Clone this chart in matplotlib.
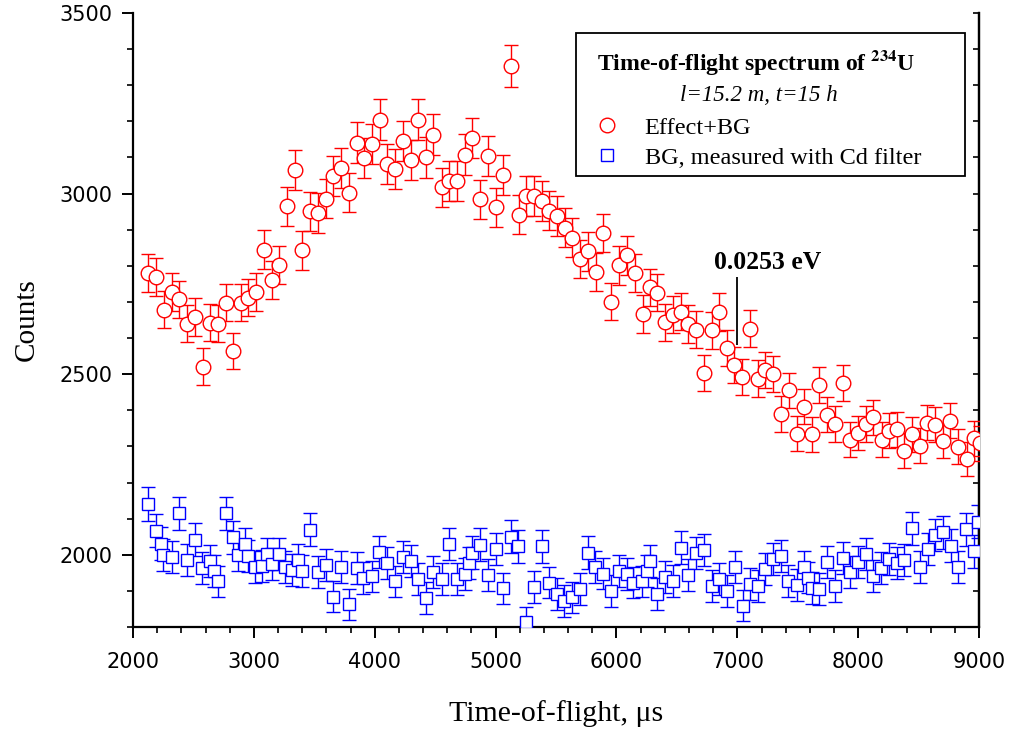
import numpy as np
import matplotlib
matplotlib.use("Agg")
import matplotlib.pyplot as plt
from matplotlib.patches import Rectangle
from matplotlib.ticker import MultipleLocator

# Effect+BG, red circles (time-of-flight in us, counts)
tof_eff = [2127, 2190, 2257, 2320, 2383, 2449, 2513, 2577, 2637, 2701,
           2767, 2830, 2894, 2954, 3018, 3084, 3148, 3211, 3274, 3338,
           3401, 3465, 3528, 3595, 3657, 3721, 3787, 3851, 3914, 3978,
           4041, 4104, 4168, 4234, 4298, 4361, 4424, 4485, 4554, 4615,
           4678, 4747, 4808, 4874, 4937, 5004, 5064, 5128, 5191, 5252,
           5318, 5382, 5445, 5506, 5572, 5635, 5699, 5762, 5829, 5891,
           5955, 6021, 6085, 6154, 6217, 6278, 6338, 6402, 6466, 6532,
           6595, 6658, 6725, 6788, 6851, 6912, 6975, 7042, 7105, 7167,
           7232, 7293, 7359, 7425, 7492, 7555, 7616, 7679, 7745, 7809,
           7872, 7933, 7996, 8063, 8126, 8195, 8255, 8319, 8382, 8448,
           8512, 8572, 8636, 8700, 8760, 8829, 8898, 8959, 9008]
cnt_eff = [2781, 2769, 2679, 2727, 2707, 2640, 2658, 2521, 2642, 2640,
           2698, 2564, 2698, 2712, 2727, 2845, 2761, 2803, 2965, 3065,
           2843, 2951, 2946, 2986, 3049, 3072, 3003, 3141, 3099, 3137,
           3205, 3083, 3069, 3146, 3092, 3205, 3100, 3163, 3017, 3034,
           3034, 3108, 3154, 2984, 3104, 2962, 3051, 3354, 2941, 2993,
           2993, 2979, 2953, 2938, 2906, 2878, 2818, 2840, 2783, 2891,
           2701, 2801, 2829, 2781, 2667, 2740, 2726, 2644, 2665, 2673,
           2639, 2623, 2503, 2621, 2672, 2572, 2526, 2492, 2626, 2488,
           2512, 2500, 2390, 2455, 2335, 2410, 2333, 2469, 2388, 2362,
           2475, 2319, 2337, 2362, 2381, 2319, 2344, 2347, 2288, 2333,
           2302, 2365, 2360, 2316, 2371, 2299, 2265, 2323, 2309]

# BG measured with Cd filter, blue squares
tof_bg = [2127, 2190, 2229, 2251, 2320, 2383, 2449, 2513, 2568, 2637,
          2670, 2701, 2767, 2830, 2871, 2927, 2954, 3009, 3065, 3106,
          3148, 3211, 3258, 3318, 3368, 3401, 3465, 3528, 3595, 3657,
          3721, 3787, 3851, 3906, 3980, 4038, 4104, 4168, 4232, 4300,
          4361, 4424, 4485, 4554, 4617, 4678, 4747, 4780, 4808, 4871,
          4935, 5001, 5064, 5125, 5188, 5252, 5318, 5382, 5445, 5506,
          5569, 5635, 5699, 5762, 5823, 5886, 5955, 6021, 6085, 6140,
          6209, 6250, 6278, 6338, 6402, 6471, 6532, 6595, 6658, 6725,
          6788, 6851, 6917, 6981, 7044, 7105, 7168, 7229, 7298, 7362,
          7422, 7492, 7552, 7588, 7616, 7679, 7745, 7809, 7872, 7933,
          8001, 8063, 8126, 8189, 8255, 8319, 8382, 8448, 8512, 8575,
          8636, 8700, 8766, 8829, 8892, 8959, 8995]
cnt_bg = [2141, 2067, 2031, 2000, 1994, 2115, 1985, 2042, 1963, 1983,
          1954, 1926, 2115, 2048, 2000, 2030, 1997, 1967, 1970, 2002,
          1974, 2002, 1967, 1958, 1986, 1956, 2069, 1951, 1971, 1884,
          1965, 1863, 1963, 1935, 1940, 2008, 1976, 1926, 1993, 1983,
          1933, 1880, 1951, 1933, 2030, 1933, 1946, 1976, 2006, 2028,
          1944, 2016, 1907, 2050, 2023, 1814, 1911, 2023, 1923, 1891,
          1872, 1882, 1905, 2006, 1967, 1948, 1900, 1954, 1946, 1923,
          1926, 1956, 1983, 1891, 1939, 1928, 2020, 1944, 2004, 2013,
          1914, 1933, 1900, 1967, 1859, 1919, 1914, 1960, 1988, 1997,
          1928, 1916, 1967, 1937, 1908, 1905, 1979, 1914, 1990, 1951,
          1979, 2002, 1942, 1963, 1988, 1976, 1986, 2073, 1967, 2016,
          2055, 2062, 2025, 1967, 2071, 2009, 2092]

thermal_tof = 7000      # 0.0253 eV mark
thermal_span = (2580, 2770)

tof_eff = np.array(tof_eff)
cnt_eff = np.array(cnt_eff)
tof_bg = np.array(tof_bg)
cnt_bg = np.array(cnt_bg)

serif = ['Liberation Serif', 'DejaVu Serif']
plt.rcParams['mathtext.fontset'] = 'stix'

fig = plt.figure(figsize=(10.11, 7.31), dpi=100)
ax = fig.add_axes([0.1316, 0.1423, 0.8368, 0.8399])

# blue background
ax.errorbar(tof_bg, cnt_bg, yerr=np.sqrt(cnt_bg), fmt='none', ecolor='#0000ff',
            elinewidth=1.0, capsize=5.2, capthick=1.0, zorder=2)
bg_line, = ax.plot(tof_bg, cnt_bg, 's', ms=8.6, mfc='white', mec='#0000ff',
                   mew=1.0, zorder=3)
# red effect+bg
ax.errorbar(tof_eff, cnt_eff, yerr=np.sqrt(cnt_eff), fmt='none', ecolor='#ff0000',
            elinewidth=1.0, capsize=5.0, capthick=1.0, zorder=4)
eff_line, = ax.plot(tof_eff, cnt_eff, 'o', ms=10.5, mfc='white', mec='#ff0000',
                    mew=1.0, zorder=5)

ax.set_xlim(2000, 9000)
ax.set_ylim(1800, 3500)
ax.xaxis.set_major_locator(MultipleLocator(1000))
ax.xaxis.set_minor_locator(MultipleLocator(200))
ax.yaxis.set_major_locator(MultipleLocator(500))
ax.yaxis.set_minor_locator(MultipleLocator(100))

for s in ['left', 'bottom', 'right']:
    ax.spines[s].set_linewidth(1.6)
ax.spines['top'].set_visible(False)

ax.tick_params(which='major', direction='out', length=8, width=1.4,
               labelsize=15, right=False, top=False)
ax.tick_params(which='minor', direction='out', length=4.5, width=1.2,
               right=False, top=False)
ax.tick_params(axis='x', which='major', pad=10)
ax.tick_params(axis='y', which='major', pad=7)
for lab in ax.get_xticklabels() + ax.get_yticklabels():
    lab.set_family('DejaVu Sans')

sec = ax.secondary_yaxis('right')
sec.yaxis.set_major_locator(MultipleLocator(100))
sec.tick_params(which='major', direction='in', length=4, width=1.2, labelright=False)
sec.spines['right'].set_linewidth(1.6)

ax.set_xlabel('Time-of-flight, μs', family=serif, fontsize=21.5, labelpad=20)
ax.set_ylabel('Counts', family=serif, fontsize=21, labelpad=14)

# 0.0253 eV marker
ax.vlines(thermal_tof, thermal_span[0], thermal_span[1], color='black', lw=1.3, zorder=6)
ax.text(thermal_tof - 190, thermal_span[1] + 8, '0.0253 eV', family=serif,
        fontsize=18.5, fontweight='bold', ha='left', va='bottom', zorder=6)

# legend box
ax.add_patch(Rectangle((0.5236, 0.7345), 0.4599, 0.2329, transform=ax.transAxes,
                       fill=True, facecolor='white', edgecolor='black', lw=1.3, zorder=7))
ax.text(0.7364, 0.9186, 'Time-of-flight spectrum of $^{\\mathbf{234}}$U', transform=ax.transAxes,
        family=serif, fontsize=17, fontweight='bold', ha='center', va='center', zorder=8)
ax.text(0.7394, 0.8664, 'l=15.2 m, t=15 h', transform=ax.transAxes, family=serif,
        fontsize=16.5, style='italic', ha='center', va='center', zorder=8)
leg = ax.legend([eff_line, bg_line], ['Effect+BG', 'BG, measured with Cd filter'],
                loc='upper left', bbox_to_anchor=(0.543, 0.831), frameon=False,
                prop={'family': serif, 'size': 17.5}, handlelength=1.2,
                handletextpad=0.95, labelspacing=0.32, borderpad=0, borderaxespad=0)
leg.set_zorder(9)

fig.savefig('out.png', dpi=100, facecolor='white')
